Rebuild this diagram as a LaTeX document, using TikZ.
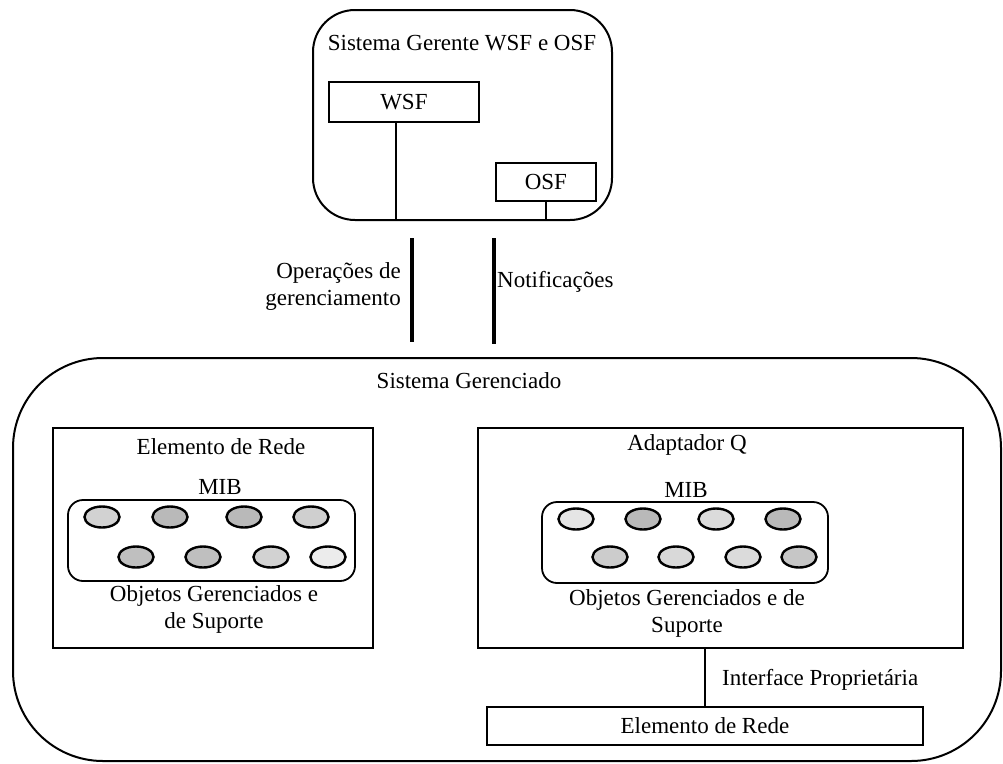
\documentclass[tikz,border=0pt]{standalone}
\usepackage{fontspec}
\setmainfont{Liberation Serif}
\usetikzlibrary{shapes.geometric}
\begin{document}
\begin{tikzpicture}[x=1pt,y=-1pt,
  every node/.style={font=\fontsize{23}{27}\selectfont, inner sep=0pt},
  frame/.style={draw, line width=2pt},
  plainbox/.style={draw, line width=1.8pt, rectangle, anchor=north west},
  mib/.style={draw, line width=1.8pt, rounded corners=15pt},
  obj/.style={draw, line width=2.4pt, ellipse, minimum width=35pt, minimum height=21pt},
  wire/.style={line width=2pt},
  bus/.style={line width=4.5pt},
  lbl/.style={align=center}]
\useasboundingbox (0,0) rectangle (1003,763);

% manager system
\draw[frame, rounded corners=42pt] (313,10) rectangle (612,220);
\coordinate (topL) at (313,220);
\node[lbl] (tgt) at (462,43) {Sistema Gerente WSF e OSF};
\node[plainbox, minimum width=150pt, minimum height=40pt] (wsf) at (328,81) {};
\node at (wsf.center) {WSF};
\node[plainbox, minimum width=100pt, minimum height=38pt] (osf) at (495,162) {};
\node at (osf.center) {OSF};
\coordinate (wsfb) at (396,220);
\coordinate (osfb) at (546,220);
\draw[wire] (wsfb |- wsf.south) -- (wsfb);
\draw[wire] (osfb |- osf.south) -- (osfb);

% interfaces between the systems
\coordinate (opA) at (412,238);
\coordinate (opB) at (412,342);
\coordinate (ntA) at (494,238);
\coordinate (ntB) at (494,344);
\draw[bus] (opA) -- (opB);
\draw[bus] (ntA) -- (ntB);
\node[align=right, anchor=east] (ops) at (401,286) {Operações de\\gerenciamento};
\node[anchor=west] (ntf) at (497,282) {Notificações};

% managed system
\draw[frame, rounded corners=90pt] (13,358) rectangle (1001,761);
\node (sg) at (469,381) {Sistema Gerenciado};

% network element
\node[plainbox, minimum width=320pt, minimum height=220pt] (ne) at (52,427) {};
\node (netl) at (221,447) {Elemento de Rede};
\node (mibl) at (220,487) {MIB};
\draw[mib] (68,500) rectangle (355,581);
\node[obj, fill=gray!35] (a1) at (102,517) {};
\node[obj, fill=gray!55] (a2) at (170,517) {};
\node[obj, fill=gray!55] (a3) at (244,517) {};
\node[obj, fill=gray!38] (a4) at (311,517) {};
\node[obj, fill=gray!50] (a5) at (136,557) {};
\node[obj, fill=gray!50] (a6) at (203,557) {};
\node[obj, fill=gray!35] (a7) at (271,557) {};
\node[obj, fill=gray!15] (a8) at (328,557) {};
\node[lbl] (neobj) at (214,609) {Objetos Gerenciados e\\de Suporte};

% Q adaptor
\node[plainbox, minimum width=485pt, minimum height=220pt] (qa) at (477,427) {};
\node (qal) at (687,445) {Adaptador Q};
\node (mibr) at (686,490) {MIB};
\draw[mib] (542,502) rectangle (828,583);
\node[obj, fill=gray!20] (b1) at (576,519) {};
\node[obj, fill=gray!55] (b2) at (643,519) {};
\node[obj, fill=gray!28] (b3) at (716,519) {};
\node[obj, fill=gray!55] (b4) at (783,519) {};
\node[obj, fill=gray!40] (b5) at (610,557) {};
\node[obj, fill=gray!30] (b6) at (676,557) {};
\node[obj, fill=gray!28] (b7) at (743,557) {};
\node[obj, fill=gray!45] (b8) at (799,557) {};
\node[lbl] (qaobj) at (687,613) {Objetos Gerenciados e de\\Suporte};

% proprietary network element
\node[plainbox, minimum width=436pt, minimum height=38pt] (pne) at (486,706) {};
\node at (pne.center) {Elemento de Rede};
\coordinate (qab) at (705,647);
\coordinate (pnet) at (705,706);
\draw[wire] (qab) -- (pnet);
\node[anchor=west] (ifl) at (722,680) {Interface Proprietária};
\end{tikzpicture}
\end{document}
